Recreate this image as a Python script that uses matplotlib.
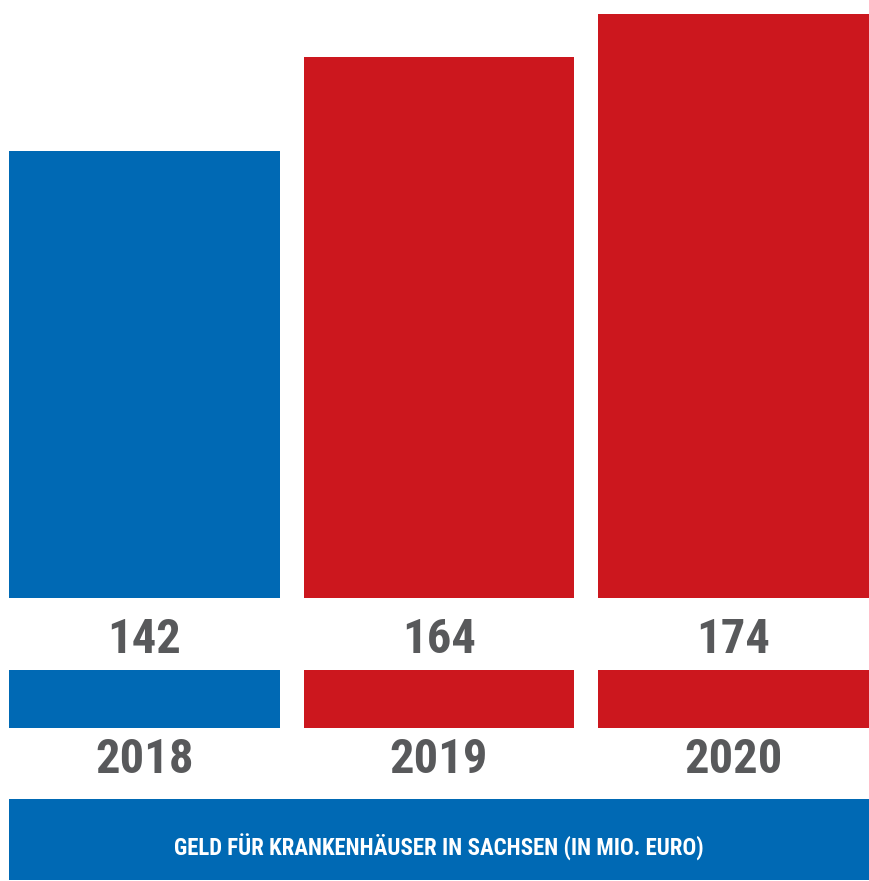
import matplotlib
matplotlib.use("Agg")
import matplotlib.pyplot as plt
import matplotlib.transforms as mtransforms

years = ["2018", "2019", "2020"]
values = [142, 164, 174]
colors = ["#0069B4", "#CC171E", "#CC171E"]
title = "GELD FÜR KRANKENHÄUSER IN SACHSEN (IN MIO. EURO)"

W, H = 869, 881
fig = plt.figure(figsize=(W / 100, H / 100), dpi=100)
fig.patch.set_facecolor("white")

FONT = ["Roboto Condensed", "DejaVu Sans"]
GRAY = "#58595B"

def px_axes(x0, y0, x1, y1):
    return fig.add_axes([x0 / W, 1 - y1 / H, (x1 - x0) / W, (y1 - y0) / H])

x = list(range(len(years)))
xlim = (-0.46, 2.46)

# main bars
ax = px_axes(9, 11, 869, 598)
ax.bar(x, values, width=0.92, color=colors)
ax.set_xlim(*xlim)
ax.set_ylim(38.0, 174.7)
ax.axis("off")

trans = mtransforms.blended_transform_factory(ax.transData, ax.transAxes)
for xi, v in zip(x, values):
    ax.text(xi, -0.071, f"{v}", transform=trans, ha="center", va="center",
            fontsize=35, fontweight="bold", color=GRAY, family=FONT, clip_on=False)

# colored strips
ax2 = px_axes(9, 670, 869, 728)
ax2.bar(x, [1] * len(x), width=0.92, color=colors)
ax2.set_xlim(*xlim)
ax2.set_ylim(0, 1)
ax2.axis("off")
trans2 = mtransforms.blended_transform_factory(ax2.transData, ax2.transAxes)
for xi, yr in zip(x, years):
    ax2.text(xi, -0.56, yr, transform=trans2, ha="center", va="center",
             fontsize=35, fontweight="bold", color=GRAY, family=FONT, clip_on=False)

# title banner
ax3 = px_axes(9, 799, 869, 880)
ax3.set_facecolor("#0069B4")
ax3.set_xticks([]); ax3.set_yticks([])
for s in ax3.spines.values():
    s.set_visible(False)
ax3.text(0.5, 0.40, title, transform=ax3.transAxes, ha="center", va="center",
         fontsize=16.5, fontweight="bold", color="white", family=FONT)

fig.savefig("out.png", dpi=100, facecolor="white")
